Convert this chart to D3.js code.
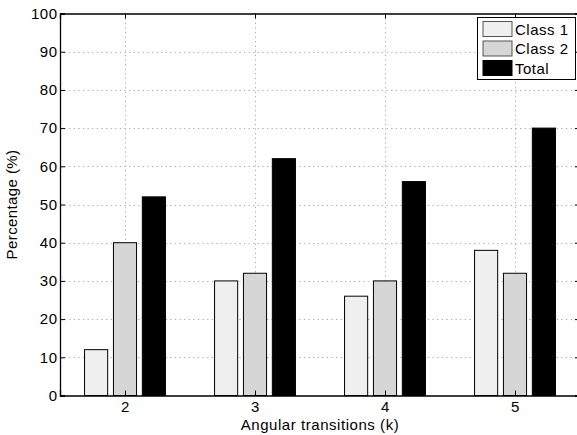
<!DOCTYPE html>
<html><head><meta charset="utf-8">
<script src="https://cdn.jsdelivr.net/npm/d3@7"></script>
<style>body{margin:0;background:#fff;} svg{display:block;font-family:"Liberation Sans",Arial,sans-serif;}</style>
</head><body>
<svg id="c" width="577" height="435"></svg>
<script>
const categories = [2, 3, 4, 5];
const seriesNames = ["Class 1", "Class 2", "Total"];
const class1 = [12, 30, 26, 38];
const class2 = [40, 32, 30, 32];
const total = [52, 62, 56, 70];
const yTicks = [0, 10, 20, 30, 40, 50, 60, 70, 80, 90, 100];
const colors = ["#efefef", "#d6d6d6", "#000000"];
const series = [class1, class2, total];

const svg = d3.select("#c");
const L = 60, R = 580, T = 13.5, B = 395.5;
const x = d3.scaleLinear().domain([1.5, 5.5]).range([L, R]);
const y = d3.scaleLinear().domain([0, 100]).range([B, T]);

// grid
const grid = svg.append("g").attr("stroke", "#a8a8a8").attr("stroke-width", 1).attr("stroke-dasharray", "1.2,3.4");
grid.selectAll(".gy").data(yTicks.filter(d => d > 0 && d < 100)).enter().append("line")
  .attr("x1", L).attr("x2", R).attr("y1", d => Math.round(y(d)) + 0.5).attr("y2", d => Math.round(y(d)) + 0.5);
grid.selectAll(".gx").data(categories).enter().append("line")
  .attr("y1", T).attr("y2", B).attr("x1", d => Math.round(x(d)) + 0.5).attr("x2", d => Math.round(x(d)) + 0.5);

// bars
const off = 0.2222, bw = 0.1778;
series.forEach((s, i) => {
  svg.append("g").selectAll("rect").data(s).enter().append("rect")
    .attr("x", (d, j) => x(categories[j] + (i - 1) * off - bw / 2))
    .attr("width", x(bw) - x(0))
    .attr("y", d => y(d))
    .attr("height", d => y(0) - y(d))
    .attr("fill", colors[i]).attr("stroke", "#000").attr("stroke-width", 1);
});

// axes
const axL = d3.axisLeft(y).tickValues(yTicks).tickSize(-5).tickPadding(2.5);
const gL = svg.append("g").attr("transform", `translate(${L},0)`).call(axL);
const axB = d3.axisBottom(x).tickValues(categories).tickSize(-5).tickPadding(6.3).tickFormat(d3.format("d"));
const gB = svg.append("g").attr("transform", `translate(0,${B})`).call(axB);
const axT = d3.axisTop(x).tickValues(categories).tickSize(-5).tickFormat("");
const gT = svg.append("g").attr("transform", `translate(0,${T})`).call(axT);
const axR = d3.axisRight(y).tickValues(yTicks).tickSize(-5).tickFormat("");
const gR = svg.append("g").attr("transform", `translate(${R},0)`).call(axR);
[gL, gB, gT, gR].forEach(g => {
  g.select(".domain").attr("stroke", "#000").attr("stroke-width", 1.3);
  g.selectAll(".tick line").attr("stroke", "#000").attr("stroke-width", 1);
  g.selectAll("text").attr("fill", "#000").style("font-size", "15px").style("letter-spacing", "0.5px")
    .style("font-family", "Liberation Sans, Arial, sans-serif");
});

// labels
svg.append("text").attr("x", (L + R) / 2).attr("y", 429.5).attr("text-anchor", "middle")
  .style("font-size", "15px").style("letter-spacing", "0.55px").text("Angular transitions (k)");
svg.append("text").attr("transform", `translate(17,${(T + B) / 2}) rotate(-90)`).attr("text-anchor", "middle")
  .style("font-size", "15px").style("letter-spacing", "0.4px").text("Percentage (%)");

// legend
const lg = svg.append("g");
lg.append("rect").attr("x", 477.5).attr("y", 17.5).attr("width", 98).attr("height", 62)
  .attr("fill", "#fff").attr("stroke", "#000").attr("stroke-width", 1);
seriesNames.forEach((n, i) => {
  const cy = 29 + i * 19.5;
  lg.append("rect").attr("x", 483).attr("y", cy - 7.5).attr("width", 29).attr("height", 15)
    .attr("fill", colors[i]).attr("stroke", i === 2 ? "#000" : "#555").attr("stroke-width", 1);
  lg.append("text").attr("x", 515).attr("y", cy + 5.5).style("font-size", "15px").style("letter-spacing", "0.5px").text(n);
});
</script>
</body></html>
